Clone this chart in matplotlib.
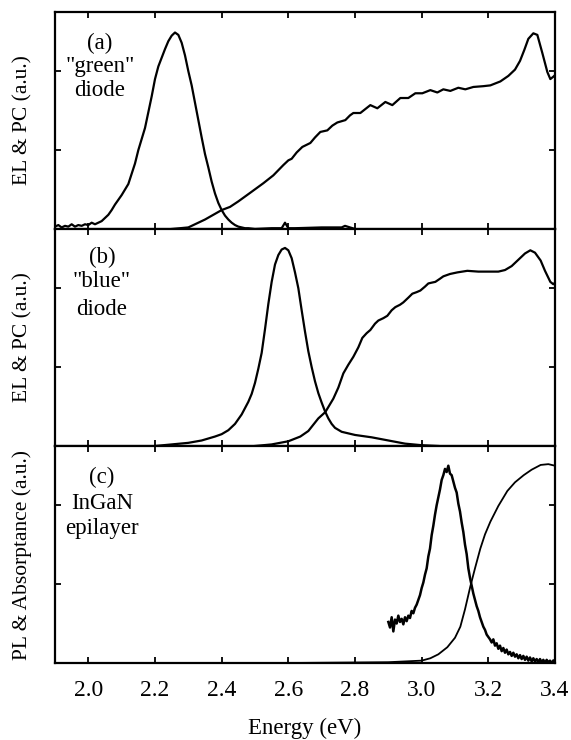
import numpy as np
import matplotlib
matplotlib.use("Agg")
import matplotlib.pyplot as plt

plt.rcParams['font.family'] = ['Liberation Serif', 'DejaVu Serif']

# (a) "green" diode: EL and PC
green_el_e = [1.90, 1.91, 1.92, 1.93, 1.94, 1.95, 1.96, 1.97, 1.98, 1.99, 2.00, 2.01, 2.02,
              2.03, 2.04, 2.05, 2.06, 2.07, 2.08, 2.09, 2.10, 2.11, 2.12, 2.13, 2.14, 2.15,
              2.16, 2.17, 2.18, 2.19, 2.20, 2.21, 2.22, 2.23, 2.24, 2.25, 2.26, 2.27, 2.28,
              2.29, 2.30, 2.31, 2.32, 2.33, 2.34, 2.35, 2.36, 2.37, 2.38, 2.39, 2.40, 2.41,
              2.42, 2.43, 2.44, 2.45, 2.46, 2.47, 2.48, 2.50, 2.55, 2.58, 2.59, 2.60, 2.62,
              2.70, 2.76, 2.77, 2.80]
green_el = [0.03, 0.05, 0.02, 0.04, 0.03, 0.06, 0.03, 0.05, 0.04, 0.06, 0.05, 0.08, 0.06,
            0.08, 0.10, 0.14, 0.18, 0.24, 0.31, 0.37, 0.43, 0.50, 0.57, 0.70, 0.83, 1.00,
            1.14, 1.28, 1.48, 1.68, 1.90, 2.06, 2.17, 2.28, 2.38, 2.45, 2.49, 2.46, 2.36,
            2.20, 2.00, 1.82, 1.60, 1.38, 1.16, 0.95, 0.78, 0.60, 0.45, 0.33, 0.24, 0.17,
            0.12, 0.08, 0.05, 0.03, 0.02, 0.01, 0.01, 0.00, 0.01, 0.01, 0.08, 0.01, 0.01,
            0.02, 0.02, 0.04, 0.00]

green_pc_e = [2.25, 2.30, 2.35, 2.40, 2.425, 2.45, 2.486, 2.525, 2.555, 2.585, 2.60, 2.61,
              2.625, 2.642, 2.666, 2.68, 2.696, 2.717, 2.732, 2.747, 2.771, 2.785, 2.795,
              2.816, 2.837, 2.846, 2.867, 2.891, 2.912, 2.936, 2.96, 2.981, 3.002, 3.026,
              3.047, 3.065, 3.086, 3.11, 3.131, 3.155, 3.185, 3.206, 3.236, 3.26, 3.28,
              3.295, 3.308, 3.32, 3.335, 3.347, 3.362, 3.377, 3.386, 3.395, 3.40]
green_pc = [0.00, 0.02, 0.12, 0.24, 0.28, 0.35, 0.46, 0.58, 0.68, 0.81, 0.87, 0.89,
            0.97, 1.04, 1.09, 1.16, 1.23, 1.25, 1.31, 1.35, 1.38, 1.44, 1.47,
            1.47, 1.54, 1.57, 1.53, 1.61, 1.57, 1.66, 1.66, 1.72, 1.72, 1.76,
            1.73, 1.77, 1.75, 1.79, 1.77, 1.80, 1.81, 1.82, 1.87, 1.94, 2.02,
            2.13, 2.27, 2.41, 2.48, 2.46, 2.23, 1.99, 1.90, 1.93, 1.95]

# (b) "blue" diode: EL and PC
blue_el_e = [2.20, 2.25, 2.30, 2.34, 2.38, 2.40, 2.42, 2.44, 2.46, 2.48, 2.49, 2.50, 2.51,
             2.52, 2.53, 2.54, 2.55, 2.56, 2.57, 2.58, 2.59, 2.60, 2.61, 2.62, 2.63, 2.64,
             2.65, 2.66, 2.67, 2.68, 2.69, 2.70, 2.71, 2.72, 2.73, 2.74, 2.76, 2.80, 2.85,
             2.90, 2.95, 3.00, 3.05]
blue_el = [0.00, 0.02, 0.04, 0.07, 0.12, 0.15, 0.20, 0.28, 0.40, 0.56, 0.66, 0.80, 0.98,
           1.18, 1.48, 1.80, 2.08, 2.30, 2.42, 2.49, 2.51, 2.48, 2.38, 2.20, 2.00, 1.72,
           1.45, 1.20, 1.00, 0.82, 0.67, 0.55, 0.44, 0.35, 0.28, 0.23, 0.18, 0.14, 0.11,
           0.07, 0.03, 0.01, 0.00]

blue_pc_e = [2.50, 2.55, 2.60, 2.636, 2.66, 2.675, 2.69, 2.711, 2.735, 2.75, 2.765, 2.78,
             2.795, 2.81, 2.822, 2.835, 2.846, 2.86, 2.87, 2.885, 2.897, 2.91, 2.921, 2.935,
             2.945, 2.96, 2.972, 2.985, 2.996, 3.01, 3.02, 3.03, 3.041, 3.055, 3.065, 3.085,
             3.107, 3.137, 3.17, 3.20, 3.23, 3.25, 3.27, 3.29, 3.31, 3.326, 3.34, 3.357,
             3.37, 3.386, 3.395, 3.40]
blue_pc = [0.00, 0.02, 0.06, 0.12, 0.19, 0.27, 0.35, 0.43, 0.60, 0.74, 0.92, 1.03,
           1.13, 1.25, 1.37, 1.43, 1.47, 1.55, 1.59, 1.62, 1.65, 1.72, 1.76, 1.79,
           1.82, 1.88, 1.93, 1.95, 1.97, 2.02, 2.06, 2.07, 2.08, 2.12, 2.15, 2.18,
           2.20, 2.22, 2.21, 2.21, 2.21, 2.23, 2.28, 2.36, 2.44, 2.48, 2.45, 2.35,
           2.22, 2.08, 2.05, 2.07]

# (c) InGaN epilayer: PL (2.900 .. 3.395 eV, 5 meV steps) and absorptance
pl = [0.52, 0.45, 0.58, 0.40, 0.55, 0.50, 0.60, 0.52, 0.56, 0.49,
      0.58, 0.53, 0.60, 0.57, 0.66, 0.63, 0.70, 0.74, 0.80, 0.86,
      0.95, 1.02, 1.12, 1.20, 1.35, 1.45, 1.62, 1.74, 1.88, 2.00,
      2.10, 2.20, 2.32, 2.38, 2.46, 2.42, 2.50, 2.40, 2.38, 2.30,
      2.22, 2.16, 2.02, 1.92, 1.78, 1.66, 1.50, 1.38, 1.20, 1.08,
      0.98, 0.88, 0.80, 0.72, 0.66, 0.58, 0.52, 0.46, 0.42, 0.36,
      0.33, 0.30, 0.26, 0.30, 0.22, 0.25, 0.18, 0.22, 0.15, 0.19,
      0.13, 0.17, 0.11, 0.14, 0.09, 0.13, 0.08, 0.11, 0.06, 0.10,
      0.05, 0.09, 0.04, 0.08, 0.03, 0.07, 0.02, 0.06, 0.02, 0.05,
      0.01, 0.05, 0.01, 0.04, 0.00, 0.04, 0.01, 0.03, 0.00, 0.03]
pl_e = np.linspace(2.900, 3.395, len(pl))

abs_e = [2.30, 2.60, 2.90, 3.00, 3.026, 3.05, 3.077, 3.10, 3.116, 3.13, 3.146, 3.16,
         3.176, 3.19, 3.206, 3.23, 3.257, 3.28, 3.306, 3.33, 3.357, 3.38, 3.40]
absorptance = [0.00, 0.00, 0.01, 0.03, 0.06, 0.11, 0.20, 0.32, 0.46, 0.68, 0.97, 1.20,
               1.45, 1.63, 1.79, 1.99, 2.18, 2.29, 2.38, 2.45, 2.51, 2.52, 2.50]

xticks = [2.0, 2.2, 2.4, 2.6, 2.8, 3.0, 3.2, 3.4]

W, H = 571, 740
fig = plt.figure(figsize=(W / 100, H / 100), dpi=100)

left = 55 / W
width = 500 / W
ph = 217 / H
tops = [12, 229, 446]
axs = [fig.add_axes([left, 1 - (t + 217) / H, width, ph]) for t in tops]

lw = 1.6
axs[0].plot(green_el_e, green_el, color='black', lw=lw)
axs[0].plot(green_pc_e, green_pc, color='black', lw=lw)
axs[1].plot(blue_el_e, blue_el, color='black', lw=lw)
axs[1].plot(blue_pc_e, blue_pc, color='black', lw=lw)
axs[2].plot(pl_e, pl, color='black', lw=1.8)
axs[2].plot(abs_e, absorptance, color='black', lw=1.3)

labels = [['(a)', '"green"', 'diode'],
          ['(b)', '"blue"', 'diode'],
          ['(c)', 'InGaN', 'epilayer']]
label_y = [[0.857, 0.747, 0.64], [0.871, 0.756, 0.627], [0.857, 0.737, 0.622]]
label_x = [0.09, 0.094, 0.094]
ylabels = ['EL & PC (a.u.)', 'EL & PC (a.u.)', 'PL & Absorptance (a.u.)']

for i, ax in enumerate(axs):
    ax.set_xlim(1.9, 3.4)
    ax.set_ylim(0, 2.75)
    ax.set_xticks(xticks)
    ax.set_yticks([0, 1, 2])
    ax.set_yticklabels([])
    ax.tick_params(direction='in', top=True, right=True, length=4, width=1.3)
    for s in ax.spines.values():
        s.set_linewidth(1.6)
    if i < 2:
        ax.set_xticklabels([])
    for txt, yy in zip(labels[i], label_y[i]):
        ax.text(label_x[i], yy, txt, transform=ax.transAxes, ha='center', va='center',
                fontsize=16.5)
    ax.set_ylabel(ylabels[i], fontsize=15.5)
    ax.yaxis.set_label_coords(-0.045, 0.5)

axs[2].tick_params(axis='x', labelsize=17, pad=12)
axs[2].set_xlabel('Energy (eV)', fontsize=16.5, labelpad=12)

fig.savefig('out.png', dpi=100)
